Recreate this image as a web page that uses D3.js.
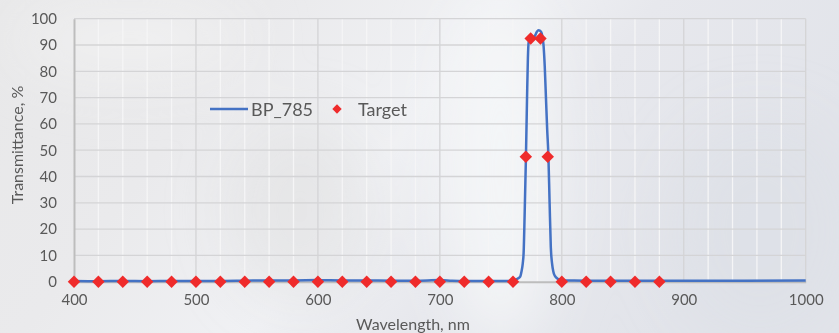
<!DOCTYPE html>
<html>
<head>
<meta charset="utf-8">
<script src="https://cdn.jsdelivr.net/npm/d3@7"></script>
<style>
  html, body { margin: 0; padding: 0; }
  body { width: 839px; height: 333px; overflow: hidden; }
  svg { display: block; font-family: Lato, "Open Sans", sans-serif; }
</style>
</head>
<body>
<svg id="chart" width="839" height="333"></svg>
<script>
// Measured transmission curve of the BP_785 band-pass filter
const wavelength = [400, 420, 440, 460, 480, 500, 520, 540, 560, 580, 600, 620, 640, 660, 680, 700, 710, 720, 740, 755, 760, 762, 764, 766, 767, 768, 768.7, 769.5, 770.6, 771.5, 772.2, 772.8, 774, 776, 778, 779.5, 781, 783, 784, 785, 786, 787, 788, 789, 790, 791, 792, 793, 794, 795, 797, 800, 820, 850, 900, 950, 1000];
const transmission = [0.3, 0.2, 0.3, 0.2, 0.3, 0.3, 0.3, 0.4, 0.5, 0.5, 0.6, 0.5, 0.5, 0.4, 0.4, 0.6, 0.4, 0.3, 0.3, 0.3, 0.4, 0.7, 1.2, 2, 4, 7, 11, 25, 47.5, 70, 85, 91, 92, 92.5, 93.5, 95, 95.6, 95, 93.5, 90, 82, 70, 58, 48, 30, 13, 7, 4, 2.5, 1.8, 1, 0.5, 0.4, 0.4, 0.4, 0.4, 0.5];

// Design target points
const targetWavelength = [400, 420, 440, 460, 480, 500, 520, 540, 560, 580, 600, 620, 640, 660, 680, 700, 720, 740, 760, 770.5, 774.5, 782.5, 788.5, 800, 820, 840, 860, 880];
const targetValue = [0, 0, 0, 0, 0, 0, 0, 0, 0, 0, 0, 0, 0, 0, 0, 0, 0, 0, 0, 47.5, 92.5, 92.5, 47.5, 0, 0, 0, 0, 0];

const xTicks = [400, 500, 600, 700, 800, 900, 1000];
const yTicks = [0, 10, 20, 30, 40, 50, 60, 70, 80, 90, 100];
const seriesNames = ["BP_785", "Target"];

const svg = d3.select("#chart");
const W = 839, H = 333;

// ---- soft backdrop ----
const defs = svg.append("defs");
const bg = defs.append("linearGradient").attr("id", "bg").attr("x1", 0).attr("x2", 1).attr("y1", 0).attr("y2", 0.3);
[["0", "#e8e8e9"], ["0.3", "#eaeaec"], ["0.55", "#f0f1f4"], ["0.72", "#e7e8ed"], ["1", "#e2e4ea"]]
  .forEach(([o, c]) => bg.append("stop").attr("offset", o).attr("stop-color", c));
defs.append("filter").attr("id", "soft").attr("x", "-50%").attr("y", "-50%").attr("width", "200%").attr("height", "200%")
  .append("feGaussianBlur").attr("stdDeviation", 30);

svg.append("rect").attr("width", W).attr("height", H).attr("fill", "url(#bg)");
const glow = svg.append("g").attr("filter", "url(#soft)");
glow.append("ellipse").attr("cx", 500).attr("cy", 170).attr("rx", 60).attr("ry", 180).attr("fill", "#f6f7f9").attr("opacity", 0.8);
glow.append("ellipse").attr("cx", 130).attr("cy", 40).attr("rx", 120).attr("ry", 40).attr("fill", "#f3f3f4").attr("opacity", 0.6);
glow.append("ellipse").attr("cx", 300).attr("cy", 210).attr("rx", 70).attr("ry", 90).attr("fill", "#dedede").attr("opacity", 0.5);
glow.append("ellipse").attr("cx", 760).attr("cy", 230).attr("rx", 90).attr("ry", 110).attr("fill", "#dcdfe6").attr("opacity", 0.6);

// ---- scales ----
const x = d3.scaleLinear().domain([400, 1000]).range([74, 805.7]);
const y = d3.scaleLinear().domain([0, 100]).range([281.7, 18.7]);

// ---- grid ----
const grid = svg.append("g");
const minorX = d3.range(420, 1000, 20).filter(v => v % 100 !== 0);
grid.selectAll(".vminor").data(minorX).join("line")
  .attr("x1", d => x(d)).attr("x2", d => x(d)).attr("y1", y(0)).attr("y2", y(100))
  .attr("stroke", "#f5f5f6").attr("stroke-width", 1.3);
grid.selectAll(".vmajor").data(xTicks.slice(1)).join("line")
  .attr("x1", d => x(d)).attr("x2", d => x(d)).attr("y1", y(0)).attr("y2", y(100))
  .attr("stroke", "#d4d4d6").attr("stroke-width", 1.3);
grid.selectAll(".h").data(yTicks.slice(1)).join("line")
  .attr("x1", x(400)).attr("x2", x(1000)).attr("y1", d => y(d)).attr("y2", d => y(d))
  .attr("stroke", "#d4d4d6").attr("stroke-width", 1.3);

// ---- axes ----
const textColor = "#595959";
const xAxis = svg.append("g").attr("transform", `translate(0,${y(0)})`)
  .call(d3.axisBottom(x).tickValues(xTicks).tickFormat(d3.format("d")).tickSize(0).tickPadding(13));
xAxis.select(".domain").attr("stroke", "#bdbdbd").attr("stroke-width", 2);
xAxis.selectAll("text").attr("fill", textColor).style("font-size", "15px").style("font-family", "Lato");

const yAxis = svg.append("g").attr("transform", `translate(${x(400)},0)`)
  .call(d3.axisLeft(y).tickValues(yTicks).tickSize(0).tickPadding(17));
yAxis.select(".domain").attr("stroke", "#bdbdbd").attr("stroke-width", 2);
yAxis.selectAll("text").attr("fill", textColor).style("font-size", "15px").style("font-family", "Lato");

// ---- axis titles ----
svg.append("text").attr("x", 413).attr("y", 330).attr("text-anchor", "middle")
  .attr("fill", textColor).style("font-size", "16px").text("Wavelength, nm");
svg.append("text").attr("transform", "translate(23,145) rotate(-90)").attr("text-anchor", "middle")
  .attr("fill", textColor).style("font-size", "16px").text("Transmittance, %");

// ---- measured curve ----
const pts = wavelength.map((w, i) => [w, transmission[i]]);
const line = d3.line().x(d => x(d[0])).y(d => y(d[1])).curve(d3.curveMonotoneX);
svg.append("path").datum(pts).attr("d", line)
  .attr("fill", "none").attr("stroke", "#4472c4").attr("stroke-width", 2.5).attr("stroke-linejoin", "round");

// ---- target markers ----
const diamond = d3.symbol().type(d3.symbolSquare).size(78);
svg.selectAll(".target").data(targetWavelength.map((w, i) => [w, targetValue[i]])).join("path")
  .attr("d", diamond)
  .attr("transform", d => `translate(${x(d[0])},${y(d[1])}) rotate(45)`)
  .attr("fill", "#ef2b2b");

// ---- legend ----
const legend = svg.append("g");
legend.append("line").attr("x1", 210).attr("x2", 248).attr("y1", 109).attr("y2", 109)
  .attr("stroke", "#4472c4").attr("stroke-width", 2.5);
legend.append("text").attr("x", 251).attr("y", 115.5).attr("fill", textColor)
  .style("font-size", "18px").text(seriesNames[0]);
legend.append("path").attr("d", d3.symbol().type(d3.symbolSquare).size(44))
  .attr("transform", "translate(337,109) rotate(45)").attr("fill", "#ef2b2b");
legend.append("text").attr("x", 358).attr("y", 115.5).attr("fill", textColor)
  .style("font-size", "18px").text(seriesNames[1]);
</script>
</body>
</html>
